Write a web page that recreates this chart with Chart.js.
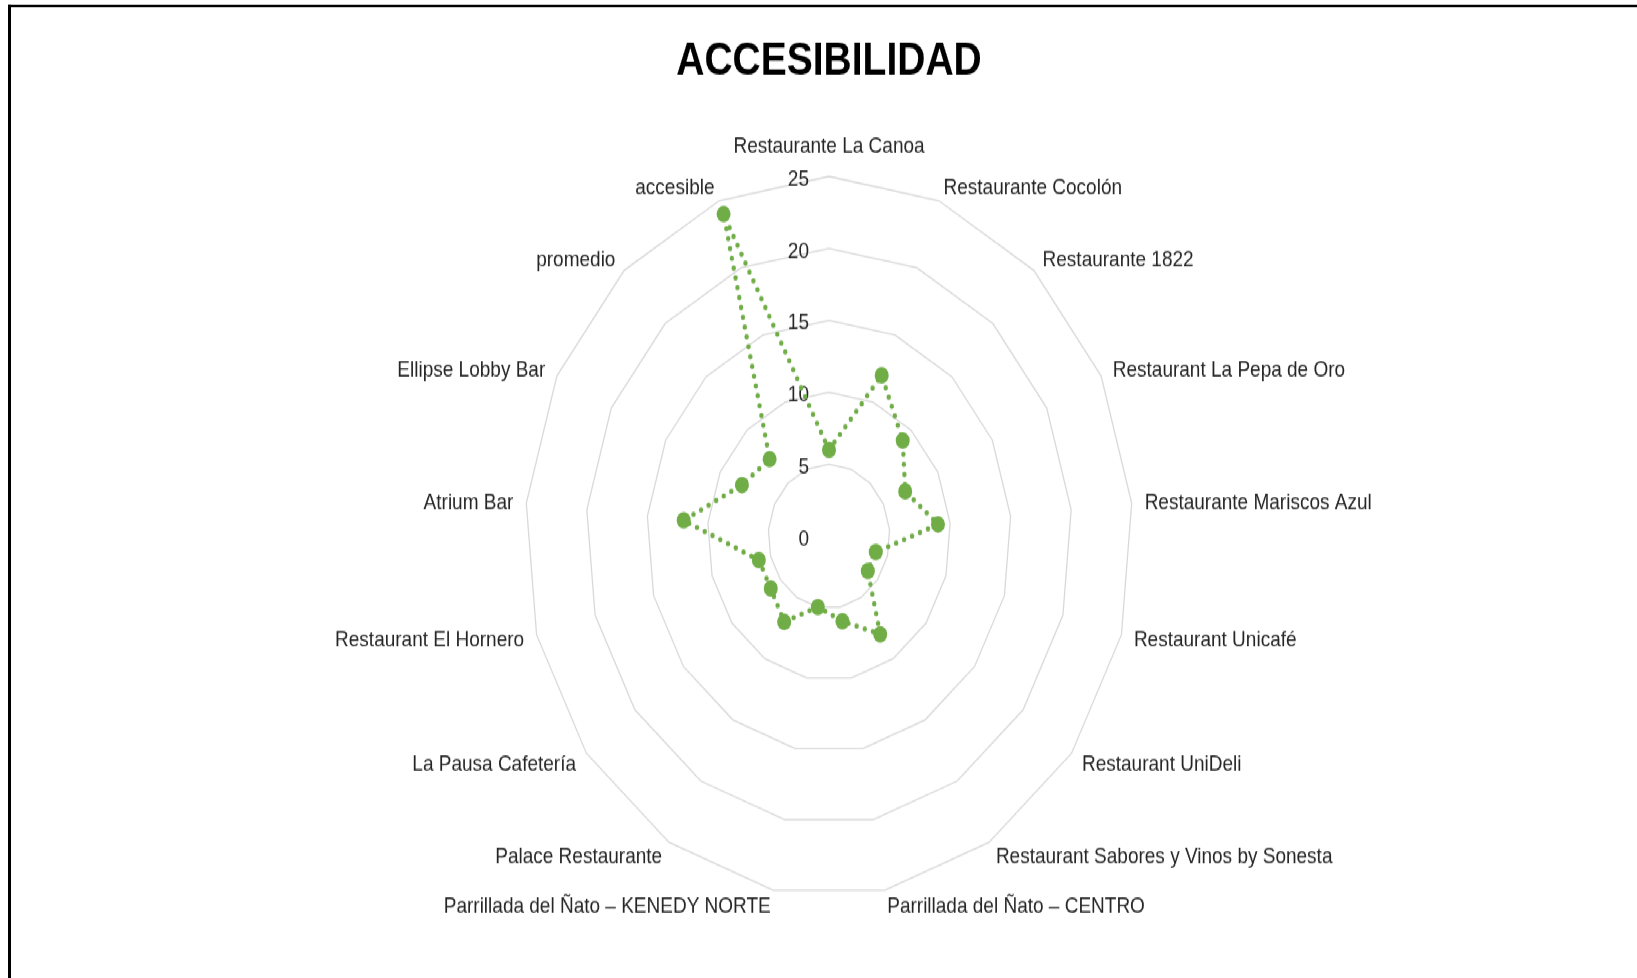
<!DOCTYPE html>
<html lang="es">
<head>
<meta charset="utf-8">
<title>Accesibilidad</title>
<script src="https://cdn.jsdelivr.net/npm/chart.js@4.4.1/dist/chart.umd.min.js"></script>
<style>
  html, body { margin: 0; padding: 0; background: #fff; overflow: hidden; }
  /* el original esta estirado en vertical : se dibuja a 826 px y se estira */
  #lienzo { position: absolute; left: 0; top: 0; width: 1637px; height: 826px; transform-origin: 0 0; transform: scaleY(1.184); }
  #marco { position: absolute; left: 8px; top: 4px; right: -10px; bottom: -20px; border-top: 2px solid #000; border-left: 3px solid #000; }
  canvas { position: absolute; left: 0; top: 0; }
</style>
</head>
<body>
<div id="lienzo">
  <div id="marco"></div>
  <canvas id="graphAccesibilidad" width="1637" height="826"></canvas>
</div>
<script>
const restaurantes = [
    "Restaurante La Canoa",
    "Restaurante Cocolón",
    "Restaurante 1822",
    "Restaurant La Pepa de Oro",
    "Restaurante Mariscos Azul",
    "Restaurant Unicafé",
    "Restaurant UniDeli",
    "Restaurant Sabores y Vinos by Sonesta",
    "Parrillada del Ñato – CENTRO",
    "Parrillada del Ñato – KENEDY NORTE",
    "Palace Restaurante",
    "La Pausa Cafetería",
    "Restaurant El Hornero",
    "Atrium Bar",
    "Ellipse Lobby Bar",
    "promedio",
    "accesible"
];
const puntajes = [6, 12, 9, 7, 9, 4, 4, 8, 6, 5, 7, 6, 6, 12, 8, 7.25, 24];
const valoresEje = [0, 5, 10, 15, 20, 25];

const police = "'Liberation Sans', Arial, sans-serif";
const vert = '#70ad47';

// etiquetas a la manera de Excel (ticks a la izquierda del eje, nombres alrededor)
const etiquetasExcel = {
    id: 'etiquetasExcel',
    beforeDatasetsDraw(chart) {
        const r = chart.scales.r;
        const ctx = chart.ctx;
        ctx.save();
        ctx.font = '19px ' + police;
        ctx.fillStyle = '#262626';
        ctx.textAlign = 'right';
        ctx.textBaseline = 'middle';
        r.ticks.forEach(t => {
            const y = r.yCenter - r.getDistanceFromCenterForValue(t.value);
            ctx.fillText(t.label, r.xCenter - 20, y + 2.5);
        });
        ctx.restore();
    },
    afterDraw(chart) {
        const r = chart.scales.r;
        const ctx = chart.ctx;
        ctx.save();
        ctx.font = '19px ' + police;
        ctx.fillStyle = '#262626';
        chart.data.labels.forEach((txt, i) => {
            const p = r.getPointPosition(i, r.drawingArea + 13);
            const dx = p.x - r.xCenter;
            if (Math.abs(dx) < 1) {
                ctx.textAlign = 'center';
                ctx.textBaseline = 'bottom';
                ctx.fillText(txt, p.x, p.y - 3);
            } else {
                ctx.textAlign = dx > 0 ? 'left' : 'right';
                ctx.textBaseline = 'middle';
                ctx.fillText(txt, p.x, p.y + 1.5);
            }
        });
        ctx.restore();
    }
};

const ctxAcc = document.getElementById('graphAccesibilidad').getContext('2d');
new Chart(ctxAcc, {
    type: 'radar',
    data: {
        labels: restaurantes,
        datasets: [{
            label: 'Accesibilidad',
            data: puntajes,
            borderColor: vert,
            borderWidth: 4.5,
            borderDash: [0, 8.5],
            borderCapStyle: 'round',
            pointRadius: 7,
            pointBackgroundColor: vert,
            pointBorderColor: vert,
            pointBorderWidth: 0,
            fill: false,
            tension: 0
        }]
    },
    options: {
        responsive: false,
        animation: false,
        events: [],
        layout: { padding: { left: 21, right: 0, top: 0, bottom: 69 } },
        plugins: {
            legend: { display: false },
            tooltip: { enabled: false },
            title: {
                display: true,
                text: 'ACCESIBILIDAD',
                color: '#000',
                font: { family: police, size: 39, weight: 'bold', lineHeight: 1.2 },
                padding: { top: 28.6, bottom: 73.6 }
            }
        },
        scales: {
            r: {
                min: 0,
                max: 25,
                afterBuildTicks: s => { s.ticks = valoresEje.map(v => ({ value: v })); },
                ticks: { display: false },
                grid: { color: '#d9d9d9', lineWidth: 1.3 },
                angleLines: { display: false },
                pointLabels: { display: false }
            }
        }
    },
    plugins: [etiquetasExcel]
});
</script>
</body>
</html>
